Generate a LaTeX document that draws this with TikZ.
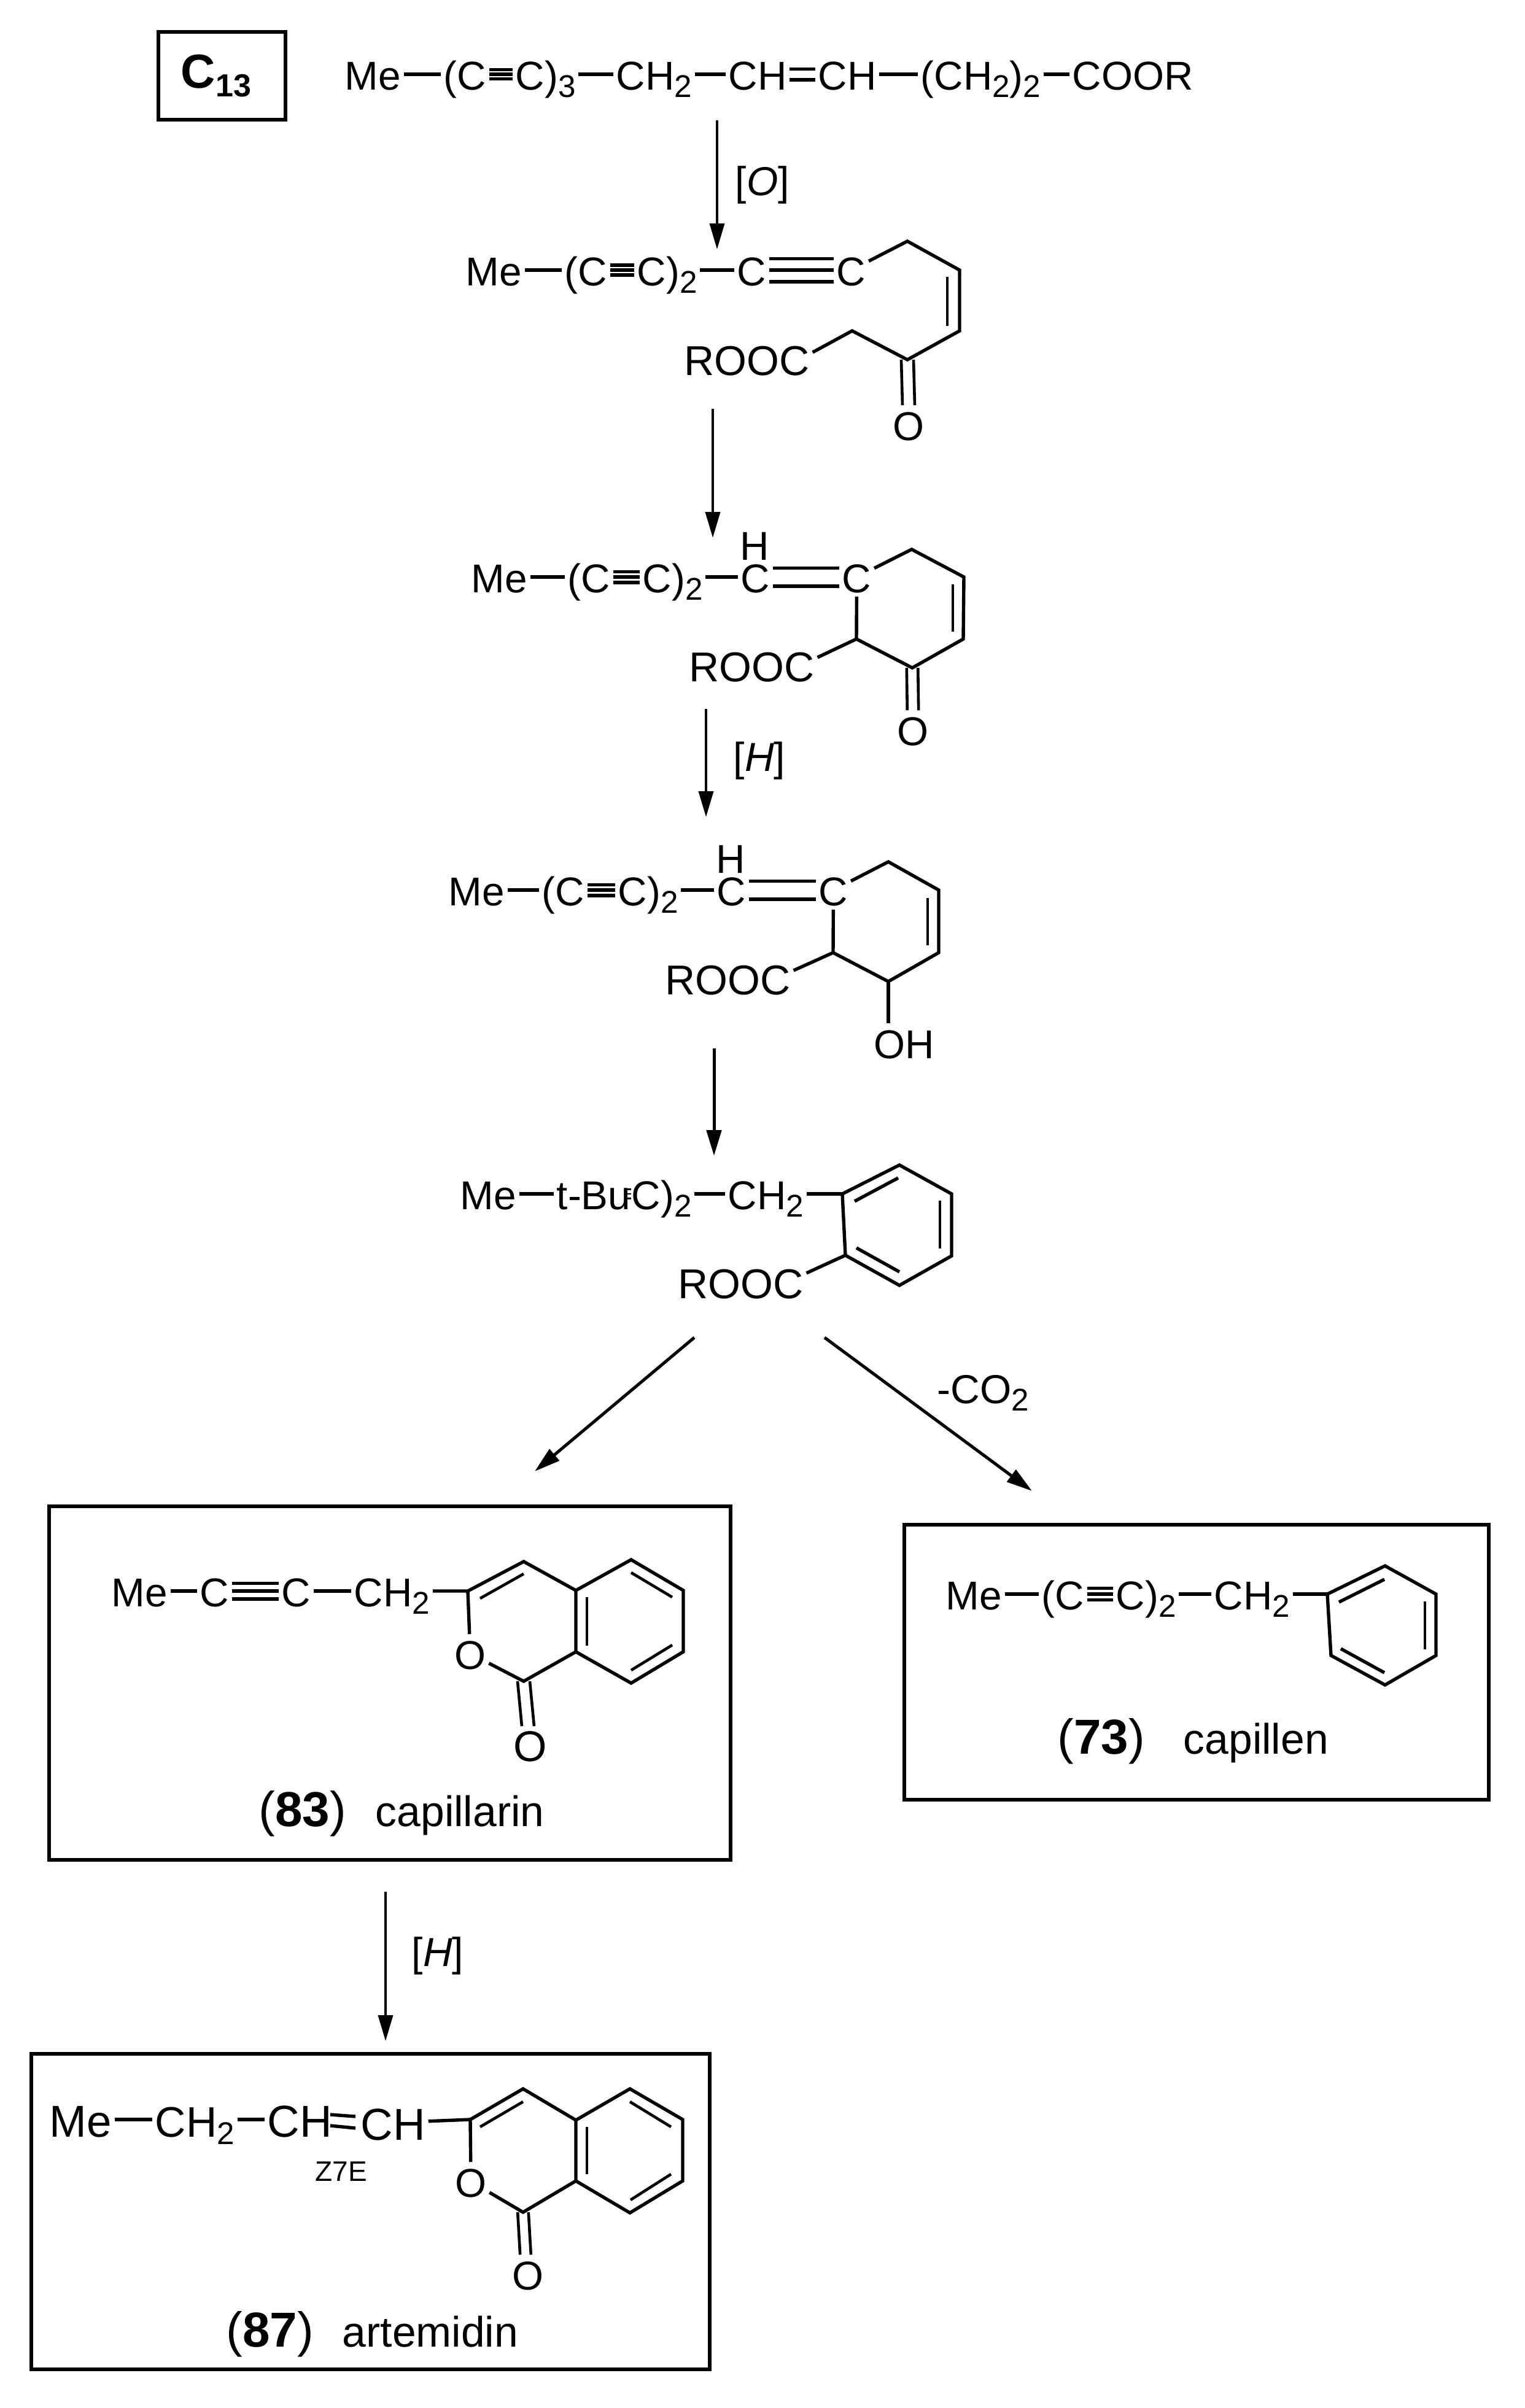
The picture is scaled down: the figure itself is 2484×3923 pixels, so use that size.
\documentclass[tikz,border=0pt]{standalone}
\usepackage{fontspec}
\setmainfont{Liberation Sans}
\usetikzlibrary{arrows.meta}
\newcommand{\sbs}[1]{\raisebox{-3.2pt}{\fontsize{12.8pt}{13pt}\selectfont #1}}
\newcommand{\trp}[3]{%
  \draw[bond] (#1.east) -- (#2.west);
  \draw[bond] ([yshift=#3]#1.east) -- ([yshift=#3]#2.west);
  \draw[bond] ([yshift=-#3]#1.east) -- ([yshift=-#3]#2.west);}
\newcommand{\dbl}[3]{%
  \draw[bond] ([yshift=#3]#1.east) -- ([yshift=#3]#2.west);
  \draw[bond] ([yshift=-#3]#1.east) -- ([yshift=-#3]#2.west);}
\tikzset{
  frag/.style={anchor=west,inner xsep=1pt,inner ysep=1.5pt,text height=12.5pt,text depth=0pt,font=\fontsize{16.4pt}{18pt}\selectfont},
  big/.style={frag,font=\fontsize{17pt}{18pt}\selectfont},
  huge/.style={frag,text height=14pt,font=\fontsize{18.2pt}{20pt}\selectfont},
  hugeb/.style={frag,text height=14pt,font=\fontsize{17.4pt}{19pt}\selectfont},
  atom/.style={frag,anchor=center},
  hatom/.style={atom,text height=11pt,inner ysep=0pt},
  lab/.style={anchor=base west,inner sep=0pt},
  numlab/.style={lab,font=\fontsize{20pt}{22pt}\selectfont},
  namelab/.style={lab,font=\fontsize{17.4pt}{19pt}\selectfont},
  bond/.style={line width=1.35pt},
  thinb/.style={line width=1.15pt},
  box/.style={draw,line width=1.5pt,inner sep=0pt,outer sep=0pt},
  arr/.style={line width=.9pt,-{Triangle[length=10.5pt,width=6pt]}},
  arrb/.style={line width=1.25pt,-{Triangle[length=10.5pt,width=6pt]}}
}
\begin{document}
\begin{tikzpicture}[x=.25pt,y=-.25pt]
\useasboundingbox (0,0) rectangle (2484,3923);
\fill[white] (0,0) rectangle (2484,3923);
% boxes
\node[box,minimum width=51.75pt,minimum height=35.75pt] (bxc) at (361.5,123.5) {};
\node[box,minimum width=277.5pt,minimum height=144pt] (bxa) at (635,2742) {};
\node[box,minimum width=238pt,minimum height=112pt] (bxb) at (1949,2708) {};
\node[box,minimum width=276.25pt,minimum height=128.5pt] (bxd) at (603.5,3603) {};
\node[lab] (cthirteen) at (294,143) {\fontsize{19.5pt}{20pt}\selectfont\bfseries C\raisebox{-3.5pt}{\fontsize{13pt}{14pt}\selectfont 13}};

% row 1
\node[frag] (am) at (557,121) {Me};
\node[frag] (ac1) at (718,121) {(C};
\node[frag] (ac2) at (835,121) {C)\sbs{3}};
\node[frag] (ach) at (999,121) {CH\sbs{2}};
\node[frag] (ad1) at (1182,121) {CH};
\node[frag] (ad2) at (1328,121) {CH};
\node[frag] (ae) at (1495,121) {(CH\sbs{2})\sbs{2}};
\node[frag] (af) at (1742,121) {COOR};
\draw[bond] (am) -- (ac1);
\trp{ac1}{ac2}{1.9pt}
\draw[bond] (ac2) -- (ach);
\draw[bond] (ach) -- (ad1);
\dbl{ad1}{ad2}{2.2pt}
\draw[bond] (ad2) -- (ae);
\draw[bond] (ae) -- (af);
% arrow 1
\coordinate (s1) at (1168,196); \coordinate (e1) at (1168,406);
\draw[arr] (s1) -- (e1);
\node[lab,font=\fontsize{16.5pt}{18pt}\selectfont] (lo) at (1197,318) {[\textit{O}]};

% row 2
\node[frag] (bm) at (754,440) {Me};
\node[frag] (bc1) at (915,440) {(C};
\node[frag] (bc2) at (1033,440) {C)\sbs{2}};
\node[frag] (bc3) at (1196,440) {C};
\node[frag] (bc4) at (1358,440) {C};
\draw[bond] (bm) -- (bc1);
\trp{bc1}{bc2}{2pt}
\draw[bond] (bc2) -- (bc3);
\trp{bc3}{bc4}{4.7pt}
\coordinate (b1) at (1478,393); \coordinate (b2) at (1563,440);
\coordinate (b3) at (1563,539); \coordinate (b4) at (1478,586);
\coordinate (b5) at (1388,539);
\coordinate (b2i) at (1543,451); \coordinate (b3i) at (1543,531);
\node[big] (brooc) at (1110,586) {ROOC};
\node[atom] (bo) at (1480,692) {O};
\draw[bond] (bc4) -- (b1) -- (b2) -- (b3) -- (b4) -- (b5) -- ([yshift=3pt]brooc.east);
\draw[thinb] (b2i) -- (b3i);
\draw[thinb] ([xshift=-2.5pt]b4) -- ([xshift=-2.5pt]bo.north);
\draw[thinb] ([xshift=2.5pt]b4) -- ([xshift=2.5pt]bo.north);
% arrow 2
\coordinate (s2) at (1161,666); \coordinate (e2) at (1161,876);
\draw[arr] (s2) -- (e2);

% row 3
\node[frag] (cm) at (763,940) {Me};
\node[frag] (cc1) at (920,940) {(C};
\node[frag] (cc2) at (1042,940) {C)\sbs{2}};
\node[frag] (cc3) at (1202,940) {C};
\node[frag] (cc4) at (1367,940) {C};
\node[hatom] (ch) at (1229,890) {H};
\draw[bond] (cm) -- (cc1);
\trp{cc1}{cc2}{2.2pt}
\draw[bond] (cc2) -- (cc3);
\dbl{cc3}{cc4}{3.7pt}
\coordinate (c1) at (1485,895); \coordinate (c2) at (1570,940);
\coordinate (c3) at (1569,1041); \coordinate (c4) at (1486,1088);
\coordinate (c5) at (1395,1041);
\coordinate (c2i) at (1552,952); \coordinate (c3i) at (1552,1029);
\node[big] (crooc) at (1118,1085) {ROOC};
\node[atom] (co) at (1487,1189) {O};
\draw[bond] (cc4) -- (c1) -- (c2) -- (c3) -- (c4) -- (c5) -- (cc4);
\draw[bond] (c5) -- ([yshift=3.5pt]crooc.east);
\draw[thinb] (c2i) -- (c3i);
\draw[thinb] ([xshift=-2.3pt]c4) -- ([xshift=-2.3pt]co.north);
\draw[thinb] ([xshift=2.3pt]c4) -- ([xshift=2.3pt]co.north);
% arrow 3
\coordinate (s3) at (1150,1155); \coordinate (e3) at (1150,1331);
\draw[arr] (s3) -- (e3);
\node[lab,font=\fontsize{16.5pt}{18pt}\selectfont] (lh) at (1194,1256) {[\textit{H}]};

% row 4
\node[frag] (dm) at (726,1450) {Me};
\node[frag] (dc1) at (878,1450) {(C};
\node[frag] (dc2) at (1002,1450) {C)\sbs{2}};
\node[frag] (dc3) at (1163,1450) {C};
\node[frag] (dc4) at (1329,1450) {C};
\node[hatom] (dh) at (1190,1400) {H};
\draw[bond] (dm) -- (dc1);
\trp{dc1}{dc2}{2.2pt}
\draw[bond] (dc2) -- (dc3);
\dbl{dc3}{dc4}{3.7pt}
\coordinate (d1) at (1447,1404); \coordinate (d2) at (1529,1450);
\coordinate (d3) at (1529,1552); \coordinate (d4) at (1447,1599);
\coordinate (d5) at (1357,1552);
\coordinate (d2i) at (1511,1463); \coordinate (d3i) at (1511,1540);
\node[big] (drooc) at (1079,1595) {ROOC};
\node[frag] (doh) at (1419,1699) {OH};
\draw[bond] (dc4) -- (d1) -- (d2) -- (d3) -- (d4) -- (d5) -- (dc4);
\draw[bond] (d5) -- ([yshift=3.5pt]drooc.east);
\draw[thinb] (d2i) -- (d3i);
\draw[bond] (d4) -- (d4 |- doh.north);
% arrow 4
\coordinate (s4) at (1163,1708); \coordinate (e4) at (1163,1883);
\draw[arrb] (s4) -- (e4);

% row 5
\node[frag] (em) at (745,1945) {Me};
\node[frag] (et) at (902,1945) {t-Bu};
\node[frag] (ec2) at (1024,1945) {C)\sbs{2}};
\node[frag] (ech) at (1181,1945) {CH\sbs{2}};
\draw[bond] (em) -- (et);
\coordinate (etr) at (1019,1945); \coordinate (etl) at (1028,1945);
\draw[line width=.7pt] ([yshift=1.9pt]etr) -- ([yshift=1.9pt]etl);
\draw[line width=.7pt] (etr) -- (etl);
\draw[line width=.7pt] ([yshift=-1.9pt]etr) -- ([yshift=-1.9pt]etl);
\draw[bond] (ec2) -- (ech);
\coordinate (e01) at (1372,1945); \coordinate (e02) at (1465,1898);
\coordinate (e03) at (1550,1945); \coordinate (e04) at (1550,2046);
\coordinate (e05) at (1465,2094); \coordinate (e06) at (1377,2045);
\coordinate (e0a) at (1392,1957); \coordinate (e0b) at (1463,1919);
\coordinate (e0c) at (1531,1956); \coordinate (e0d) at (1531,2034);
\coordinate (e0e) at (1395,2033); \coordinate (e0f) at (1465,2072);
\draw[bond] (ech) -- (e01);
\draw[bond] (e01) -- (e02) -- (e03) -- (e04) -- (e05) -- (e06) -- cycle;
\draw[bond] (e0a) -- (e0b);
\draw[thinb] (e0c) -- (e0d);
\draw[bond] (e0e) -- (e0f);
\node[big] (erooc) at (1100,2090) {ROOC};
\draw[bond] (e06) -- ([yshift=4pt]erooc.east);

% branch arrows
\coordinate (s5) at (1131,2179); \coordinate (e5) at (871,2397);
\draw[arrb] (s5) -- (e5);
\coordinate (s6) at (1343,2179); \coordinate (e6) at (1681,2429);
\draw[arrb] (s6) -- (e6);
\node[lab,font=\fontsize{16.5pt}{18pt}\selectfont] (lco) at (1526,2286) {-CO\sbs{2}};

% capillarin
\node[frag] (fm) at (177,2592) {Me};
\node[frag] (fc1) at (321,2592) {C};
\node[frag] (fc2) at (454,2592) {C};
\node[frag] (fch) at (572,2592) {CH\sbs{2}};
\draw[bond] (fm) -- (fc1);
\trp{fc1}{fc2}{3.2pt}
\draw[bond] (fc2) -- (fch);
\coordinate (fa) at (762,2592); \coordinate (fb) at (853,2544);
\coordinate (fd) at (938,2591); \coordinate (fe) at (938,2691);
\coordinate (ff) at (853,2739);
\coordinate (fg) at (1028,2541); \coordinate (fh) at (1113,2591);
\coordinate (fi) at (1113,2691); \coordinate (fj) at (1028,2742);
\coordinate (fk) at (782,2604); \coordinate (fl) at (853,2564);
\coordinate (fn) at (956,2602); \coordinate (fo) at (956,2681);
\coordinate (fp) at (1028,2562); \coordinate (fq) at (1095,2602);
\coordinate (fr) at (1095,2680); \coordinate (fs) at (1028,2721);
\node[atom] (fx) at (766,2694) {O};
\node[atom,font=\fontsize{17.5pt}{19pt}\selectfont] (fy) at (864,2844) {O};
\draw[bond] (fch) -- (fa) -- (fb) -- (fd) -- (fe) -- (ff) -- (fx) -- (fa);
\draw[bond] (fd) -- (fg) -- (fh) -- (fi) -- (fj) -- (fe);
\draw[thinb] (fk) -- (fl);
\draw[thinb] (fn) -- (fo);
\draw[thinb] (fp) -- (fq);
\draw[thinb] (fr) -- (fs);
\draw[thinb] ([xshift=-2.5pt]ff) -- ([xshift=-3.5pt]fy.north);
\draw[thinb] ([xshift=2.5pt]ff) -- ([xshift=1.5pt]fy.north);
\node[numlab] (fnum) at (421,2975) {(\textbf{83})};
\node[namelab] (fname) at (611,2975) {capillarin};

% capillen
\node[frag] (gm) at (1536,2597) {Me};
\node[frag] (gc1) at (1692,2597) {(C};
\node[frag] (gc2) at (1813,2597) {C)\sbs{2}};
\node[frag] (gch) at (1973,2597) {CH\sbs{2}};
\draw[bond] (gm) -- (gc1);
\trp{gc1}{gc2}{2.4pt}
\draw[bond] (gc2) -- (gch);
\coordinate (g1) at (2162,2597); \coordinate (g2) at (2256,2551);
\coordinate (g3) at (2339,2597); \coordinate (g4) at (2339,2697);
\coordinate (g5) at (2256,2745); \coordinate (g6) at (2168,2697);
\coordinate (ga) at (2181,2610); \coordinate (gb) at (2255,2573);
\coordinate (gd) at (2321,2609); \coordinate (ge) at (2321,2687);
\coordinate (gf) at (2184,2686); \coordinate (gg) at (2255,2725);
\draw[bond] (gch) -- (g1);
\draw[bond] (g1) -- (g2) -- (g3) -- (g4) -- (g5) -- (g6) -- cycle;
\draw[bond] (ga) -- (gb);
\draw[thinb] (gd) -- (ge);
\draw[bond] (gf) -- (gg);
\node[numlab] (gnum) at (1722,2857) {(\textbf{73})};
\node[namelab] (gname) at (1927,2857) {capillen};

% arrow 7
\coordinate (s7) at (628,3082); \coordinate (e7) at (628,3325);
\draw[arr] (s7) -- (e7);
\node[lab,font=\fontsize{16.5pt}{18pt}\selectfont] (lh2) at (670,3203) {[\textit{H}]};

% artemidin
\node[huge] (hm) at (76,3453) {Me};
\node[hugeb] (hch) at (248,3453) {CH\sbs{2}};
\node[huge] (hd1) at (431,3453) {CH};
\node[huge] (hd2) at (583,3458) {CH};
\draw[bond] (hm) -- (hch);
\draw[bond] (hch) -- (hd1);
\coordinate (hq1) at (538,3445); \coordinate (hq2) at (579,3448);
\coordinate (hq3) at (538,3463); \coordinate (hq4) at (579,3467);
\draw[bond] (hq1) -- (hq2);
\draw[bond] (hq3) -- (hq4);
\coordinate (ha) at (766,3453); \coordinate (hb) at (852,3403);
\coordinate (hd) at (938,3454); \coordinate (he) at (938,3553);
\coordinate (hf) at (852,3604);
\coordinate (hg) at (1026,3403); \coordinate (hh) at (1112,3453);
\coordinate (hi) at (1112,3553); \coordinate (hj) at (1026,3605);
\coordinate (hk) at (782,3465); \coordinate (hl) at (852,3424);
\coordinate (hn) at (956,3465); \coordinate (ho) at (956,3542);
\coordinate (hp) at (1026,3424); \coordinate (hr) at (1093,3465);
\coordinate (hs) at (1093,3542); \coordinate (ht) at (1027,3584);
\node[atom] (hx) at (767,3554) {O};
\node[atom] (hy) at (860,3705) {O};
\draw[bond] (hd2) -- (ha);
\draw[bond] (ha) -- (hb) -- (hd) -- (he) -- (hf) -- (hx) -- (ha);
\draw[bond] (hd) -- (hg) -- (hh) -- (hi) -- (hj) -- (he);
\draw[thinb] (hk) -- (hl);
\draw[thinb] (hn) -- (ho);
\draw[thinb] (hp) -- (hr);
\draw[thinb] (hs) -- (ht);
\draw[thinb] ([xshift=-2.2pt]hf) -- ([xshift=-3.2pt]hy.north);
\draw[thinb] ([xshift=2.2pt]hf) -- ([xshift=1.2pt]hy.north);
\node[lab,font=\fontsize{11.5pt}{13pt}\selectfont] (hz) at (513,3553) {Z7E};
\node[numlab] (hnum) at (368,3823) {(\textbf{87})};
\node[namelab] (hname) at (557,3823) {artemidin};
\end{tikzpicture}
\end{document}
